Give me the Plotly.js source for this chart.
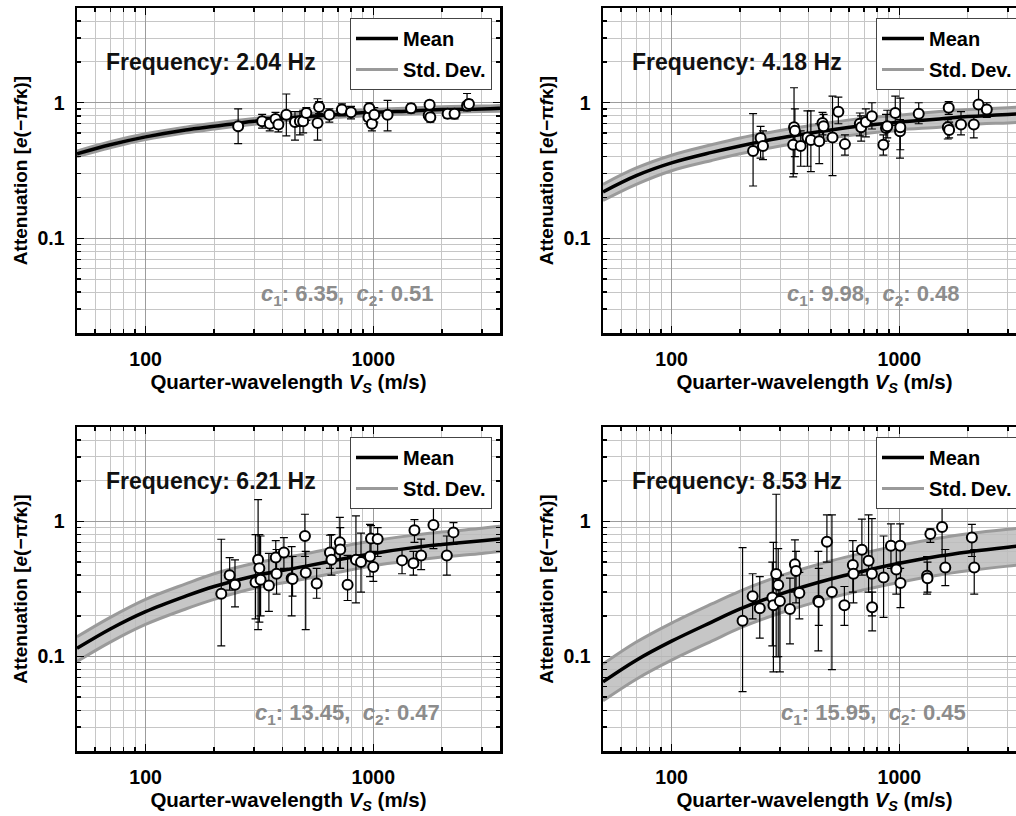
<!DOCTYPE html>
<html>
<head>
<meta charset="utf-8">
<script src="https://cdn.plot.ly/plotly-3.0.1.min.js"></script>
<style>
html, body { margin: 0; padding: 0; overflow: hidden; background: #fff; }
#chart { width: 1030px; height: 816px; }
</style>
</head>
<body>
<div id="chart"></div>
<script>
// ---------------- data ----------------
const frequencies = ['2.04', '4.18', '6.21', '8.53'];
const c1Values = ['6.35', '9.98', '13.45', '15.95'];
const c2Values = ['0.51', '0.48', '0.47', '0.45'];

const xTickVals = [100, 1000];
const xTickText = ['100', '1000'];
const xMinorVals = [50, 60, 70, 80, 90, 200, 300, 400, 500, 600, 700, 800, 900, 2000, 3000];
const yTickVals = [0.1, 1];
const yTickText = ['0.1', '1'];
const yMinorVals = [0.02, 0.03, 0.04, 0.05, 0.06, 0.07, 0.08, 0.09, 0.2, 0.3, 0.4, 0.5, 0.6, 0.7, 0.8, 0.9, 2, 3, 4, 5];

// curve sample positions (Vs, m/s)
const curveVs = [50, 70, 100, 150, 200, 300, 500, 700, 1000, 1500, 2000, 3000, 3600];

// Panel 1 (2.04 Hz)
const mean1  = [0.42, 0.49, 0.56, 0.63, 0.67, 0.73, 0.79, 0.82, 0.85, 0.87, 0.89, 0.90, 0.91];
const upper1 = [0.44, 0.515, 0.59, 0.66, 0.705, 0.765, 0.83, 0.86, 0.89, 0.915, 0.935, 0.945, 0.955];
const lower1 = [0.40, 0.465, 0.535, 0.60, 0.64, 0.695, 0.755, 0.78, 0.81, 0.83, 0.85, 0.86, 0.865];
const vs1  = [255, 325, 351, 372, 383, 415, 453, 476, 492, 508, 569, 578, 641, 728, 798, 952, 960, 986, 1010, 1155, 1465, 1750, 1767, 1780, 2120, 2274, 2580, 2630];
const att1 = [0.67, 0.73, 0.70, 0.76, 0.69, 0.815, 0.72, 0.73, 0.73, 0.84, 0.71, 0.93, 0.815, 0.89, 0.85, 0.78, 0.91, 0.70, 0.815, 0.815, 0.91, 0.81, 0.967, 0.78, 0.83, 0.83, 0.955, 0.98];
const hi1  = [0.90, 0.82, 0.78, 0.85, 0.77, 1.16, 0.86, 0.86, 0.88, 0.92, 1.07, 1.02, 0.90, 0.98, 0.94, 0.86, 1.00, 0.78, 0.92, 1.04, 0.98, 0.87, 1.03, 0.84, 0.89, 0.89, 1.17, 1.05];
const lo1  = [0.50, 0.65, 0.62, 0.66, 0.61, 0.57, 0.53, 0.58, 0.60, 0.74, 0.53, 0.83, 0.72, 0.80, 0.76, 0.70, 0.82, 0.62, 0.72, 0.62, 0.84, 0.75, 0.90, 0.72, 0.77, 0.76, 0.87, 0.91];

// Panel 2 (4.18 Hz)
const mean2  = [0.22, 0.29, 0.36, 0.43, 0.48, 0.55, 0.63, 0.68, 0.72, 0.76, 0.79, 0.82, 0.83];
const upper2 = [0.25, 0.33, 0.41, 0.49, 0.55, 0.625, 0.715, 0.77, 0.81, 0.86, 0.89, 0.92, 0.93];
const lower2 = [0.19, 0.25, 0.315, 0.375, 0.42, 0.48, 0.55, 0.59, 0.63, 0.66, 0.69, 0.71, 0.72];
const vs2  = [228, 246, 252, 342, 345, 348, 369, 395, 409, 445, 460, 465, 509, 540, 577, 671, 680, 713, 758, 851, 874, 885, 960, 1007, 1010, 1217, 1633, 1648, 1655, 1866, 2124, 2228, 2422];
const att2 = [0.44, 0.55, 0.48, 0.49, 0.66, 0.62, 0.48, 0.555, 0.53, 0.52, 0.71, 0.67, 0.555, 0.857, 0.495, 0.70, 0.66, 0.72, 0.795, 0.49, 0.65, 0.67, 0.84, 0.615, 0.66, 0.83, 0.66, 0.92, 0.63, 0.69, 0.69, 0.97, 0.89];
const hi2  = [0.83, 0.67, 0.62, 0.70, 1.29, 0.90, 0.62, 0.87, 0.87, 0.70, 0.85, 0.82, 1.12, 1.10, 0.58, 0.84, 0.80, 0.90, 1.00, 0.58, 0.82, 0.88, 1.12, 0.75, 1.08, 1.00, 0.75, 1.02, 0.72, 0.86, 0.80, 1.31, 1.00];
const lo2  = [0.243, 0.39, 0.38, 0.284, 0.30, 0.40, 0.34, 0.34, 0.31, 0.355, 0.58, 0.52, 0.29, 0.70, 0.41, 0.57, 0.52, 0.56, 0.64, 0.41, 0.52, 0.55, 0.68, 0.39, 0.45, 0.70, 0.54, 0.82, 0.55, 0.58, 0.55, 0.80, 0.78];

// Panel 3 (6.21 Hz)
const mean3  = [0.115, 0.16, 0.215, 0.28, 0.33, 0.395, 0.465, 0.52, 0.58, 0.64, 0.675, 0.72, 0.74];
const upper3 = [0.14, 0.195, 0.265, 0.345, 0.41, 0.49, 0.575, 0.645, 0.72, 0.79, 0.835, 0.89, 0.92];
const lower3 = [0.092, 0.128, 0.173, 0.225, 0.265, 0.32, 0.375, 0.42, 0.47, 0.515, 0.545, 0.58, 0.60];
const vs3  = [215, 234, 247, 304, 312, 316, 320, 348, 373, 376, 405, 438, 442, 501, 505, 564, 645, 655, 713, 716, 771, 839, 883, 967, 977, 1000, 1045, 1337, 1500, 1516, 1622, 1837, 2103, 2249];
const att3 = [0.292, 0.40, 0.34, 0.355, 0.52, 0.45, 0.37, 0.336, 0.54, 0.41, 0.59, 0.38, 0.375, 0.78, 0.417, 0.347, 0.588, 0.52, 0.70, 0.62, 0.34, 0.52, 0.50, 0.55, 0.747, 0.46, 0.74, 0.515, 0.49, 0.86, 0.56, 0.94, 0.56, 0.83];
const hi3  = [0.738, 0.54, 0.52, 0.80, 1.45, 0.80, 0.78, 0.58, 0.72, 0.62, 0.76, 0.65, 0.55, 1.13, 0.60, 0.45, 0.79, 0.80, 1.07, 0.90, 0.56, 1.10, 0.82, 0.95, 0.93, 0.60, 0.90, 0.62, 0.60, 1.03, 0.74, 1.47, 0.78, 0.98];
const lo3  = [0.12, 0.31, 0.233, 0.19, 0.158, 0.18, 0.20, 0.216, 0.42, 0.29, 0.45, 0.20, 0.28, 0.55, 0.158, 0.27, 0.45, 0.40, 0.45, 0.45, 0.26, 0.25, 0.30, 0.39, 0.58, 0.36, 0.55, 0.41, 0.40, 0.70, 0.44, 0.63, 0.40, 0.68];

// Panel 4 (8.53 Hz)
const mean4  = [0.065, 0.094, 0.13, 0.18, 0.225, 0.29, 0.375, 0.43, 0.49, 0.555, 0.595, 0.645, 0.665];
const upper4 = [0.088, 0.128, 0.177, 0.245, 0.305, 0.395, 0.51, 0.585, 0.665, 0.755, 0.81, 0.875, 0.90];
const lower4 = [0.047, 0.068, 0.094, 0.13, 0.163, 0.21, 0.272, 0.312, 0.355, 0.402, 0.431, 0.467, 0.482];
const vs4  = [205, 227, 244, 277, 280, 288, 294, 299, 331, 348, 352, 364, 441, 443, 481, 506, 574, 625, 629, 685, 733, 758, 760, 853, 919, 970, 1009, 1012, 1324, 1330, 1369, 1541, 1592, 2083, 2133];
const att4 = [0.184, 0.279, 0.228, 0.274, 0.24, 0.408, 0.338, 0.258, 0.225, 0.483, 0.43, 0.295, 0.259, 0.253, 0.707, 0.30, 0.24, 0.476, 0.41, 0.617, 0.511, 0.41, 0.232, 0.385, 0.66, 0.44, 0.66, 0.35, 0.397, 0.38, 0.806, 0.91, 0.457, 0.76, 0.457];
const hi4  = [0.64, 0.41, 0.39, 0.50, 0.70, 1.59, 0.63, 0.40, 0.38, 0.73, 0.60, 0.42, 0.60, 0.45, 1.12, 1.12, 0.33, 0.72, 0.60, 1.04, 1.12, 1.05, 0.30, 0.78, 0.96, 0.65, 0.96, 0.50, 0.55, 0.50, 0.88, 1.55, 0.62, 0.95, 0.62];
const lo4  = [0.055, 0.19, 0.137, 0.12, 0.077, 0.10, 0.10, 0.077, 0.124, 0.30, 0.25, 0.19, 0.11, 0.17, 0.50, 0.08, 0.17, 0.30, 0.25, 0.40, 0.30, 0.20, 0.155, 0.195, 0.45, 0.29, 0.45, 0.23, 0.29, 0.30, 0.70, 0.55, 0.335, 0.55, 0.29];

// ---------------- layout helpers ----------------
const W = 1030, H = 816;
const FONT = 'Liberation Sans, Arial, Helvetica, sans-serif';
const px = v => v / W;
const py = v => 1 - v / H;

const panels = [
  {mean: mean1, up: upper1, lo: lower1, vs: vs1, att: att1, hi: hi1, low: lo1},
  {mean: mean2, up: upper2, lo: lower2, vs: vs2, att: att2, hi: hi2, low: lo2},
  {mean: mean3, up: upper3, lo: lower3, vs: vs3, att: att3, hi: hi3, low: lo3},
  {mean: mean4, up: upper4, lo: lower4, vs: vs4, att: att4, hi: hi4, low: lo4}
];

// pixel boxes of each plot area
const boxes = [
  {l: 77, r: 500, t: 8, b: 333},
  {l: 603, r: 1026, t: 8, b: 333},
  {l: 77, r: 500, t: 427, b: 751},
  {l: 603, r: 1026, t: 427, b: 751}
];

const traces = [];
const layout = {
  width: W, height: H,
  margin: {l: 0, r: 0, t: 0, b: 0},
  paper_bgcolor: '#fff', plot_bgcolor: '#fff',
  font: {family: FONT, color: '#000'},
  annotations: []
};

panels.forEach((p, i) => {
  const n = i + 1;
  const xa = n === 1 ? 'x' : 'x' + n;
  const ya = n === 1 ? 'y' : 'y' + n;
  const lg = n === 1 ? 'legend' : 'legend' + n;

  traces.push({
    x: curveVs, y: p.lo, xaxis: xa, yaxis: ya, mode: 'lines', type: 'scatter',
    name: 'Std.\u2009Dev.', legend: lg, legendrank: 2, legendgroup: 's' + n,
    line: {color: '#9a9a9a', width: 3, shape: 'spline'}, hoverinfo: 'skip'
  });
  traces.push({
    x: curveVs, y: p.up, xaxis: xa, yaxis: ya, mode: 'lines', type: 'scatter',
    showlegend: false, fill: 'tonexty', fillcolor: 'rgba(188,188,188,0.85)',
    line: {color: '#9a9a9a', width: 3, shape: 'spline'}, hoverinfo: 'skip'
  });
  traces.push({
    x: curveVs, y: p.mean, xaxis: xa, yaxis: ya, mode: 'lines', type: 'scatter',
    name: 'Mean', legend: lg, legendrank: 1, legendgroup: 'm' + n,
    line: {color: '#000', width: 3.5, shape: 'spline'}
  });
  traces.push({
    x: p.vs, y: p.att, xaxis: xa, yaxis: ya, mode: 'markers', type: 'scatter',
    showlegend: false,
    marker: {symbol: 'circle', size: 10, color: '#fff', line: {color: '#000', width: 2}},
    error_y: {
      type: 'data', symmetric: false,
      array: p.hi.map((h, k) => h - p.att[k]),
      arrayminus: p.low.map((l, k) => p.att[k] - l),
      color: '#000', thickness: 1.2, width: 4
    }
  });

  const b = boxes[i];
  const xdom = [px(b.l), px(b.r)];
  const ydom = [py(b.b), py(b.t)];
  const tickFont = {family: FONT, size: 19.5, weight: 700, color: '#000'};

  layout['xaxis' + (n === 1 ? '' : n)] = {
    type: 'log', domain: xdom, anchor: ya,
    range: [Math.log10(50), Math.log10(3600)],
    tickmode: 'array', tickvals: xTickVals, ticktext: xTickText,
    ticks: 'inside', ticklen: 7, tickwidth: 1.5, tickcolor: '#000',
    showline: true, linewidth: 2.5, linecolor: '#000', mirror: 'ticks',
    showgrid: true, gridcolor: '#9c9c9c', gridwidth: 1, zeroline: false,
    minor: {tickmode: 'array', tickvals: xMinorVals, ticks: 'inside', ticklen: 4,
            tickcolor: '#000', showgrid: true, gridcolor: '#c6c6c6', gridwidth: 1},
    tickfont: tickFont, ticklabelstandoff: 7, automargin: false,
    title: {text: 'Quarter-wavelength <i>V</i><sub><i>S</i></sub> (m/s)',
            font: {family: FONT, size: 20.5, weight: 700, color: '#000'}, standoff: 5}
  };
  layout['yaxis' + (n === 1 ? '' : n)] = {
    type: 'log', domain: ydom, anchor: xa,
    range: [Math.log10(0.02), Math.log10(5)],
    tickmode: 'array', tickvals: yTickVals, ticktext: yTickText,
    ticks: 'inside', ticklen: 7, tickwidth: 1.5, tickcolor: '#000',
    showline: true, linewidth: 2.5, linecolor: '#000', mirror: 'ticks',
    showgrid: true, gridcolor: '#9c9c9c', gridwidth: 1, zeroline: false,
    minor: {tickmode: 'array', tickvals: yMinorVals, ticks: 'inside', ticklen: 4,
            tickcolor: '#000', showgrid: true, gridcolor: '#c6c6c6', gridwidth: 1},
    tickfont: tickFont, ticklabelstandoff: 6, automargin: false,
    title: {text: 'Attenuation [<i>e</i>(\u2212\u03c0<i>f</i>\u03ba)]',
            font: {family: FONT, size: 19, weight: 700, color: '#000'}, standoff: 5}
  };

  layout[lg] = {
    x: px(b.r - 8), y: py(b.t + 10), xanchor: 'right', yanchor: 'top',
    xref: 'paper', yref: 'paper',
    bgcolor: '#fff', bordercolor: '#444', borderwidth: 1,
    font: {family: FONT, size: 20, weight: 700, color: '#000'},
    traceorder: 'grouped', tracegroupgap: 2, itemwidth: 42
  };

  layout.annotations.push({
    xref: 'paper', yref: 'paper', x: px(b.l + 134), y: py(b.t + 54),
    xanchor: 'center', yanchor: 'middle', showarrow: false,
    text: 'Frequency: ' + frequencies[i] + ' Hz',
    font: {family: FONT, size: 23, weight: 700, color: '#111'}
  });
  layout.annotations.push({
    xref: 'paper', yref: 'paper', x: px(b.l + 270), y: py(b.t + 287),
    xanchor: 'center', yanchor: 'middle', showarrow: false,
    text: '<i>c</i><sub>1</sub>: ' + c1Values[i] + ',\u00a0 <i>c</i><sub>2</sub>: ' + c2Values[i],
    font: {family: FONT, size: 22, weight: 700, color: '#8c8c8c'}
  });
});

Plotly.newPlot('chart', traces, layout, {staticPlot: true, displayModeBar: false});
</script>
</body>
</html>
